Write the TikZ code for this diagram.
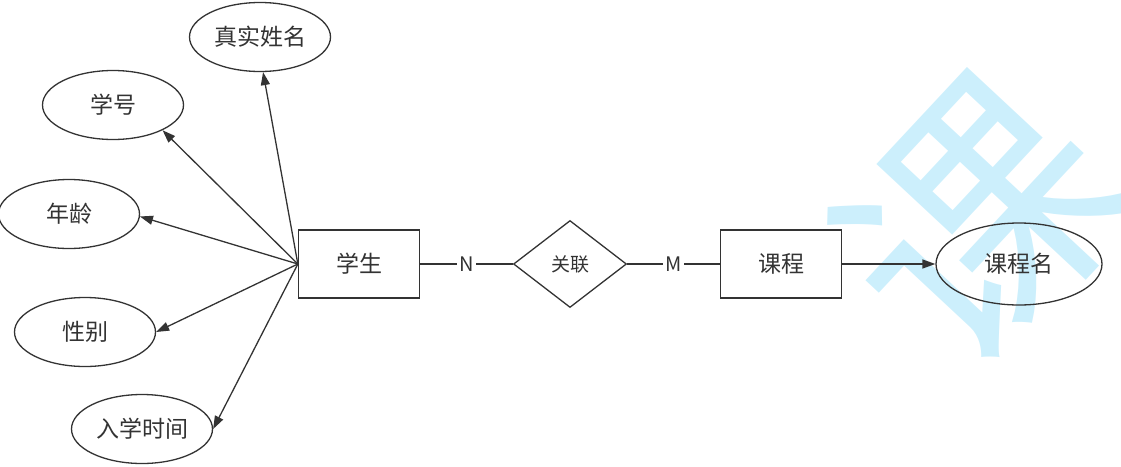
\documentclass[tikz,border=0pt]{standalone}
\usepackage{fontspec}
\setmainfont{Noto Sans CJK SC}
\usetikzlibrary{shapes.geometric,arrows.meta}
\definecolor{linegray}{HTML}{333333}
\definecolor{markcyan}{HTML}{CCEFFC}

\begin{document}
\begin{tikzpicture}[x=1pt,y=-1pt,
    entity/.style={draw=linegray,line width=1.3pt,minimum width=121pt,minimum height=68pt,
      inner sep=0pt,text=linegray,font=\fontsize{23}{27}\selectfont},
    attr/.style={ellipse,draw=linegray,line width=1.3pt,minimum width=141pt,minimum height=69pt,
      inner sep=0pt,text=linegray,font=\fontsize{23}{27}\selectfont},
    rel/.style={diamond,aspect=1.3,draw=linegray,line width=1.3pt,minimum width=113pt,
      minimum height=87pt,inner sep=0pt,text=linegray,font=\fontsize{19}{23}\selectfont},
    card/.style={fill=white,inner sep=2pt,text=linegray,font=\fontsize{20}{24}\selectfont},
    toattr/.style={draw=linegray,line width=1.3pt,-{Triangle[length=13pt,width=9pt]}}]
  \useasboundingbox (0,0) rectangle (1121,466);

  % Watermark
  \begin{scope}
    \clip (0,0) rectangle (1121,466);
    \node[rotate=47,text=markcyan,inner sep=0pt,font=\fontsize{265}{265}\selectfont] (mark) at (979,221) {课};
  \end{scope}

  % Entities and relation
  \node[entity] (stu) at (359,264) {学生};
  \node[rel] (link) at (570,264) {关联};
  \node[entity] (course) at (781,264) {课程};

  % Attributes
  \node[attr] (name) at (260,37) {真实姓名};
  \node[attr] (num) at (113,105) {学号};
  \node[attr] (age) at (69,214) {年龄};
  \node[attr] (sex) at (85,332) {性别};
  \node[attr] (enter) at (142,429) {入学时间};
  \node[attr,minimum width=166pt,minimum height=82pt] (cname) at (1019,264) {课程名};

  % Connections
  \draw[draw=linegray,line width=1.3pt] (stu) -- node[card]{N} (link);
  \draw[draw=linegray,line width=1.3pt] (link) -- node[card]{M} (course);
  \foreach \a/\ang in {name/-85,num/-27,age/-2,sex/0,enter/0}
    \draw[toattr] (stu.west) -- (\a.\ang);
  \draw[toattr] (course) -- (cname);
\end{tikzpicture}
\end{document}
